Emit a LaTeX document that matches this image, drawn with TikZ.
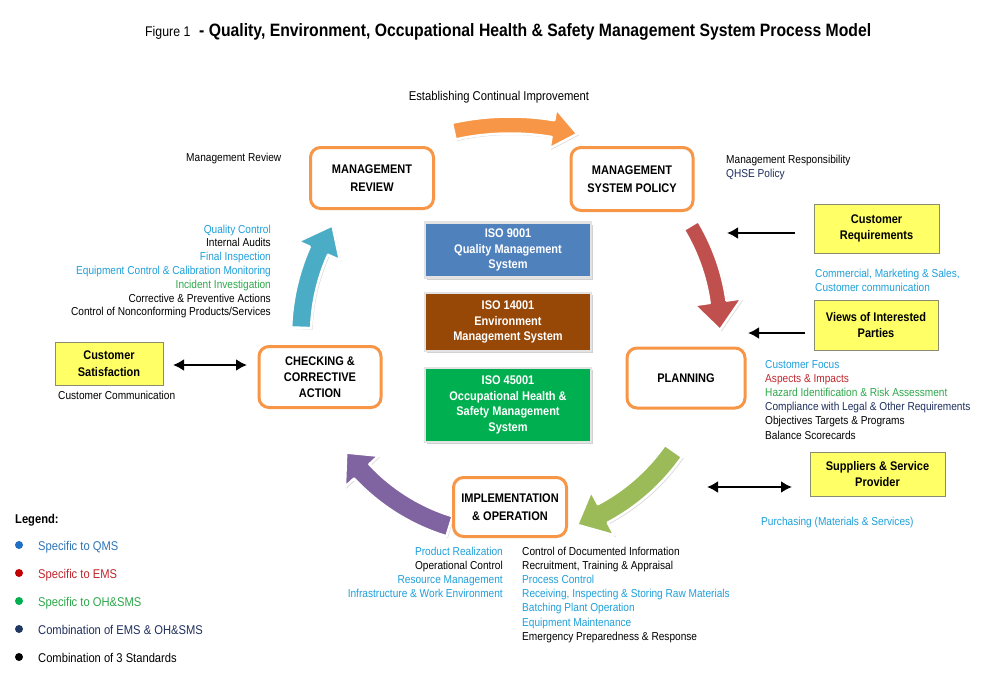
\documentclass[tikz,border=0pt]{standalone}
\usepackage{fontspec}
\setmainfont{Liberation Sans}[FakeStretch=0.88]
\usetikzlibrary{arrows.meta,calc,shadows}
\definecolor{orangeb}{HTML}{F79646}
\definecolor{arrred}{HTML}{C0504D}
\definecolor{arrgreen}{HTML}{9BBB59}
\definecolor{arrpurple}{HTML}{8064A2}
\definecolor{arrblue}{HTML}{4BACC6}
\definecolor{isoblue}{HTML}{4F81BD}
\definecolor{isobrown}{HTML}{974706}
\definecolor{isogreen}{HTML}{00B050}
\definecolor{isoframe}{HTML}{E3E3E3}
\definecolor{yel}{HTML}{FFFF66}
\definecolor{yelframe}{HTML}{8C8C6E}
\definecolor{txblue}{HTML}{1FA0DA}
\definecolor{txred}{HTML}{C0272D}
\definecolor{txgreen}{HTML}{2DA84A}
\definecolor{txnavy}{HTML}{1F2F5E}
\definecolor{lgblue}{HTML}{2E75B6}
\definecolor{dotblue}{HTML}{1F6FC5}
\definecolor{dotred}{HTML}{C00000}
\definecolor{dotgreen}{HTML}{00B050}
\definecolor{dotnavy}{HTML}{1F3864}
\newcommand{\cyclearrow}[9]{%
  \path[arrowbody, fill=#1]
    plot[domain=#5:#6, samples=30] ({#2+(#4+#8)*cos(\x)},{#3+(#4+#8)*sin(\x)})
    -- ({#2+(#4+#9)*cos(#6)},{#3+(#4+#9)*sin(#6)})
    -- ({#2+#4*cos(#6+#7)},{#3+#4*sin(#6+#7)})
    -- ({#2+(#4-#9)*cos(#6)},{#3+(#4-#9)*sin(#6)})
    -- plot[domain=#6:#5, samples=30] ({#2+(#4-#8)*cos(\x)},{#3+(#4-#8)*sin(\x)})
    -- cycle;}
\begin{document}
\begin{tikzpicture}[x=1pt,y=-1pt,
  proc/.style={draw=orangeb, line width=3pt, fill=white, rounded corners=10pt,
    font=\fontsize{12.5}{17.5}\selectfont\bfseries, align=center, inner sep=0pt},
  iso/.style={draw=isoframe, line width=2.5pt, text=white, align=center, inner sep=0pt,
    font=\fontsize{12.5}{15.5}\selectfont\bfseries,
    drop shadow={shadow xshift=2pt, shadow yshift=-2pt, opacity=0.35}},
  ybox/.style={draw=yelframe, line width=0.8pt, fill=yel, align=center, inner sep=0pt,
    font=\fontsize{12.5}{16.5}\selectfont\bfseries},
  txt/.style={inner sep=0pt, font=\fontsize{11.5}{14}\selectfont},
  lg/.style={inner sep=0pt, font=\fontsize{12.7}{14}\selectfont, anchor=base west},
  arrowbody/.style={draw=white, line width=2.5pt, line join=round,
    drop shadow={shadow xshift=1.5pt, shadow yshift=-1.5pt, opacity=0.3}},
  blk/.style={line width=2.6pt, -{Latex[length=11pt,width=12pt]}},
  blkk/.style={line width=2.6pt, {Latex[length=11pt,width=12pt]}-{Latex[length=11pt,width=12pt]}},
  dot/.style={circle, fill=#1, inner sep=0pt, minimum size=8pt}
]
\useasboundingbox (0,0) rectangle (1000,680);
\fill[white] (0,0) rectangle (1000,680);

% title
\node[inner sep=0pt, anchor=base west, font=\fontsize{14}{16}\selectfont] (fig) at (145,36) {Figure 1};
\node[inner sep=0pt, anchor=base west, font=\fontsize{17.9}{20}\selectfont\bfseries] (title) at (199,36)
  {- Quality, Environment, Occupational Health \& Safety Management System Process Model};

% big cycle arrows
\cyclearrow{orangeb}{510}{385}{260}{-102.5}{-80.5}{5.5}{8.5}{20}
\cyclearrow{arrred}{517}{330}{203}{-31}{-8}{8}{8.5}{24}
\cyclearrow{arrgreen}{508}{335}{202}{35}{62}{8}{10.5}{25}
\cyclearrow{arrpurple}{508}{335}{200}{107}{137}{7}{10.5}{23}
\cyclearrow{arrblue}{508}{335}{207}{182}{204}{8}{10}{23}

% process boxes
\node[proc, minimum width=123pt, minimum height=61pt] (mr) at (372,178) {MANAGEMENT\\REVIEW};
\node[proc, minimum width=122pt, minimum height=63pt] (msp) at (632,179) {MANAGEMENT\\SYSTEM POLICY};
\node[proc, minimum width=118pt, minimum height=60pt] (plan) at (686,378) {PLANNING};
\node[proc, minimum width=113pt, minimum height=59pt] (impl) at (510,507) {IMPLEMENTATION\\\& OPERATION};
\node[proc, minimum width=122pt, minimum height=61pt, font=\fontsize{12.5}{16.3}\selectfont\bfseries] (check) at (320,377) {CHECKING \&\\CORRECTIVE\\ACTION};

% ISO boxes
\node[iso, fill=isoblue, minimum width=166pt, minimum height=55pt] (iso1) at (508,250) {ISO 9001\\Quality Management\\System};
\node[iso, fill=isobrown, minimum width=166pt, minimum height=58pt] (iso2) at (508,322) {ISO 14001\\Environment\\Management System};
\node[iso, fill=isogreen, minimum width=166pt, minimum height=74pt] (iso3) at (508,405) {ISO 45001\\Occupational Health \&\\Safety Management\\System};

% yellow boxes
\node[ybox, minimum width=125pt, minimum height=49pt] (creq) at (876.5,228.5) {Customer\\Requirements};
\node[ybox, minimum width=124pt, minimum height=50pt] (vip) at (876,325) {Views of Interested\\Parties};
\node[ybox, minimum width=135pt, minimum height=44pt] (ssp) at (877.5,474) {Suppliers \& Service\\Provider};
\node[ybox, minimum width=108pt, minimum height=43pt] (csat) at (109,363.5) {Customer\\Satisfaction};

% black arrows
\coordinate (c1s) at (795,233); \coordinate (c1e) at (727,233);
\coordinate (c2s) at (805,333); \coordinate (c2e) at (748,333);
\coordinate (c3s) at (707,487); \coordinate (c3e) at (792,487);
\coordinate (c4s) at (173,365); \coordinate (c4e) at (247,365);
\draw[blk] (c1s) -- (c1e);
\draw[blk] (c2s) -- (c2e);
\draw[blkk] (c3s) -- (c3e);
\draw[blkk] (c4s) -- (c4e);

% annotations
\node[inner sep=0pt, anchor=base, font=\fontsize{12.8}{14}\selectfont] (eci) at (499,100) {Establishing Continual Improvement};
\node[txt, anchor=base west] (mrl) at (186,161) {Management Review};
\node[txt, anchor=base west] (mrs) at (726,163) {Management Responsibility};
\node[txt, anchor=base west, text=txnavy] (qhse) at (726,177) {QHSE Policy};

\node[txt, anchor=base east, text=txblue] (k1) at (271,233) {Quality Control};
\node[txt, anchor=base east] (k2) at (271,246.8) {Internal Audits};
\node[txt, anchor=base east, text=txblue] (k3) at (271,260.6) {Final Inspection};
\node[txt, anchor=base east, text=txblue] (k4) at (271,274.4) {Equipment Control \& Calibration Monitoring};
\node[txt, anchor=base east, text=txgreen] (k5) at (271,288.2) {Incident Investigation};
\node[txt, anchor=base east] (k6) at (271,302) {Corrective \& Preventive Actions};
\node[txt, anchor=base east] (k7) at (271,315.8) {Control of Nonconforming Products/Services};

\node[txt, anchor=base west] (ccom) at (58,399) {Customer Communication};
\node[txt, anchor=base west, text=txblue] (cm1) at (815,277) {Commercial, Marketing \& Sales,};
\node[txt, anchor=base west, text=txblue] (cm2) at (815,291) {Customer communication};

\node[txt, anchor=base west, text=txblue] (p1) at (765,368) {Customer Focus};
\node[txt, anchor=base west, text=txred] (p2) at (765,382.2) {Aspects \& Impacts};
\node[txt, anchor=base west, text=txgreen] (p3) at (765,396.4) {Hazard Identification \& Risk Assessment};
\node[txt, anchor=base west, text=txnavy] (p4) at (765,410.6) {Compliance with Legal \& Other Requirements};
\node[txt, anchor=base west] (p5) at (765,424.8) {Objectives Targets \& Programs};
\node[txt, anchor=base west] (p6) at (765,439) {Balance Scorecards};

\node[txt, anchor=base west, text=txblue] (pur) at (761,525) {Purchasing (Materials \& Services)};

\node[txt, anchor=base east, text=txblue] (i1) at (503,555) {Product Realization};
\node[txt, anchor=base east] (i2) at (503,569) {Operational Control};
\node[txt, anchor=base east, text=txblue] (i3) at (503,583.5) {Resource Management};
\node[txt, anchor=base east, text=txblue] (i4) at (503,597.5) {Infrastructure \& Work Environment};

\node[txt, anchor=base west] (j1) at (522,555) {Control of Documented Information};
\node[txt, anchor=base west] (j2) at (522,569.2) {Recruitment, Training \& Appraisal};
\node[txt, anchor=base west, text=txblue] (j3) at (522,583.4) {Process Control};
\node[txt, anchor=base west, text=txblue] (j4) at (522,597.6) {Receiving, Inspecting \& Storing Raw Materials};
\node[txt, anchor=base west, text=txblue] (j5) at (522,611.8) {Batching Plant Operation};
\node[txt, anchor=base west, text=txblue] (j6) at (522,626) {Equipment Maintenance};
\node[txt, anchor=base west] (j7) at (522,640.2) {Emergency Preparedness \& Response};

% legend
\node[lg, font=\fontsize{12.7}{14}\selectfont\bfseries] (leg) at (15,523) {Legend:};
\node[dot=dotblue] (d1) at (19,545) {};
\node[dot=dotred] (d2) at (19,573) {};
\node[dot=dotgreen] (d3) at (19,601) {};
\node[dot=dotnavy] (d4) at (19,629) {};
\node[dot=black] (d5) at (19,657) {};
\node[lg, text=lgblue] (l1) at (38,550) {Specific to QMS};
\node[lg, text=txred] (l2) at (38,578) {Specific to EMS};
\node[lg, text=txgreen] (l3) at (38,606) {Specific to OH\&SMS};
\node[lg, text=txnavy] (l4) at (38,634) {Combination of EMS \& OH\&SMS};
\node[lg] (l5) at (38,662) {Combination of 3 Standards};
\end{tikzpicture}
\end{document}
